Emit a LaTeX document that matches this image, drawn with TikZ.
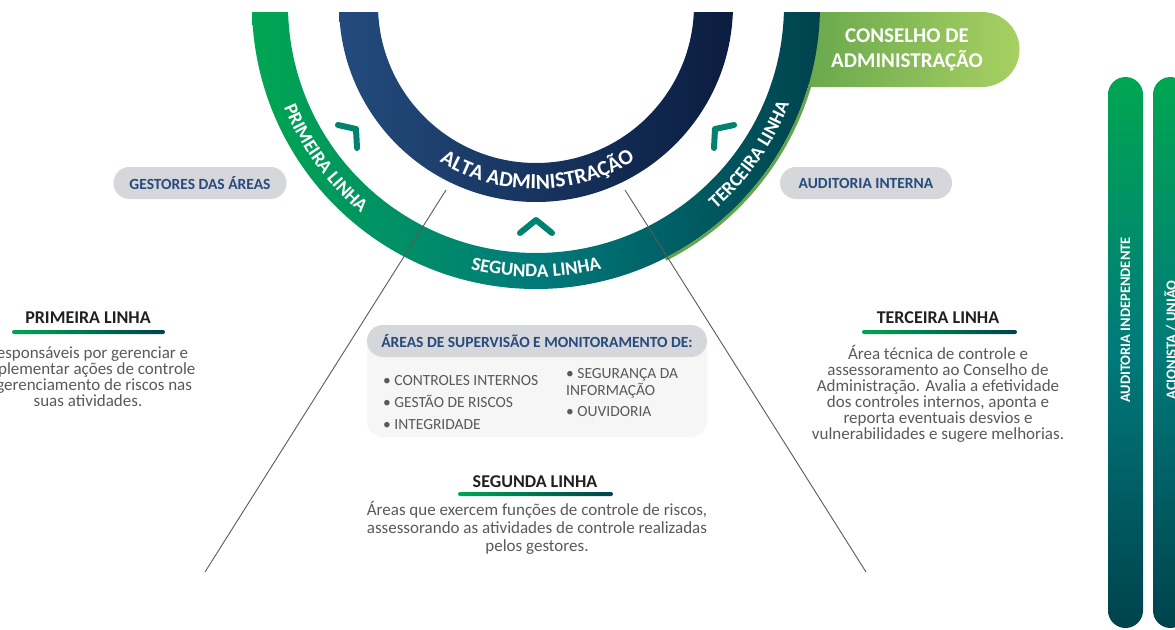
\documentclass[tikz,border=0pt]{standalone}
\usepackage{fontspec}
\setmainfont{Carlito}
\usetikzlibrary{decorations.text, positioning}
\definecolor{linegreen}{RGB}{0,166,81}
\definecolor{lineteal}{RGB}{0,122,122}
\definecolor{linedark}{RGB}{0,66,77}
\definecolor{adminlight}{RGB}{35,75,125}
\definecolor{admindark}{RGB}{11,29,64}
\definecolor{boardleft}{RGB}{100,165,75}
\definecolor{boardright}{RGB}{168,208,98}
\definecolor{pillgray}{RGB}{213,215,218}
\definecolor{boxgray}{RGB}{246,246,246}
\definecolor{pilltext}{RGB}{40,74,126}
\definecolor{bodytext}{RGB}{89,89,89}
\definecolor{headtext}{RGB}{35,31,32}
\definecolor{chevron}{RGB}{0,130,112}
\definecolor{guide}{RGB}{90,90,90}

\newcommand\ringfont{\fontsize{19}{19}\selectfont\bfseries}
\newcommand\adminfont{\fontsize{21.5}{21.5}\selectfont\bfseries}
\newcommand\boardfont{\fontsize{21}{25}\selectfont\bfseries}
\newcommand\pillfont{\fontsize{15.5}{16}\selectfont\bfseries}
\newcommand\titlefont{\fontsize{18}{20}\selectfont\bfseries}
\newcommand\bodyfont{\fontsize{17}{16}\selectfont\lineskiplimit=-20pt}
\newcommand\itemfont{\fontsize{15.5}{22}\selectfont}
\newcommand\barfont{\fontsize{14.5}{16}\selectfont\bfseries}

\tikzset{
  ringlabel/.style 2 args={decorate, decoration={text along path, text align=center, text color=white, text={|#1|#2}}},
  pill/.style={fill=pillgray, rounded corners=16pt, minimum height=32pt, inner sep=0pt, text=pilltext, font=\pillfont},
  linetitle/.style={text=headtext, font=\titlefont, inner sep=0pt},
  linebody/.style={text=bodytext, font=\bodyfont, align=center, inner sep=0pt},
  itemlist/.style={text=bodytext, font=\itemfont, align=left, inner sep=0pt, anchor=north west},
  barlabel/.style={text=white, font=\barfont, rotate=90, inner sep=0pt},
  guideline/.style={draw=guide, line width=0.9pt},
  chev/.style={draw=chevron, line width=6pt, line cap=round, line join=round},
  barshade/.style={top color=linegreen, bottom color=linedark, middle color=lineteal, rounded corners=17.5pt}
}

\begin{document}
\begin{tikzpicture}[x=1pt, y=1pt]
  \useasboundingbox (0,0) rectangle (1175,-629);
  \clip (0,0) rectangle (1175,-629);

  % Conselho box (sits under the outer ring)
  \shade[left color=boardleft, right color=boardright] (790,-12) -- (982,-12) arc[start angle=90, end angle=-90, radius=37.5] -- (790,-87) -- cycle;
  \node[text=white, font=\boardfont, align=center] (conselho) at (907,-50) {CONSELHO DE\\ADMINISTRAÇÃO};

  % Rings
  \coordinate (c) at (536,-5);
  \begin{scope}
    \clip (0,-12) rectangle (1175,-629);
    \shade[left color=linegreen, right color=linedark, middle color=lineteal, even odd rule] (c) circle[radius=284] (c) circle[radius=248];
    \shade[left color=adminlight, right color=admindark, even odd rule] (c) circle[radius=197] (c) circle[radius=158];
  \end{scope}
  \draw[boardleft, line width=3pt] (c) ++(-16:285.5) arc[start angle=-16, end angle=-63, radius=285.5];

  % Ring labels
  \path[ringlabel={\ringfont}{PRIMEIRA LINHA}] (c) ++(181:272) arc[start angle=181, end angle=251, radius=272];
  \path[ringlabel={\ringfont}{SEGUNDA LINHA}] (c) ++(235:272) arc[start angle=235, end angle=305, radius=272];
  \path[ringlabel={\ringfont}{TERCEIRA LINHA}] (c) ++(290:272) arc[start angle=290, end angle=360, radius=272];
  \path[ringlabel={\adminfont}{ALTA ADMINISTRAÇÃO}] (c) ++(230:184) arc[start angle=230, end angle=311, radius=184];

  % Chevrons
  \draw[chev] (338,-125) -- (356,-129) -- (357,-148);
  \draw[chev] (520,-233) -- (536,-220) -- (552,-233);
  \draw[chev] (734,-125) -- (715,-129) -- (714,-148);

  % Guide lines
  \coordinate (guideLa) at (446,-190);
  \coordinate (guideLb) at (205,-572);
  \coordinate (guideRa) at (625,-190);
  \coordinate (guideRb) at (866,-572);
  \draw[guideline] (guideLa) -- (guideLb);
  \draw[guideline] (guideRa) -- (guideRb);

  % Pills
  \node[pill, minimum width=173pt] (gestores) at (200,-183) {GESTORES DAS ÁREAS};
  \node[pill, minimum width=172pt] (auditoria) at (866,-183) {AUDITORIA INTERNA};

  % Supervision box
  \fill[boxgray, rounded corners=16pt] (367,-325) rectangle (707,-437);
  \node[pill, minimum width=340pt] (areas) at (537,-341) {ÁREAS DE SUPERVISÃO E MONITORAMENTO DE:};
  \node[itemlist] (leftitems) at (383,-375) {• CONTROLES INTERNOS\\• GESTÃO DE RISCOS\\• INTEGRIDADE};
  \node[itemlist, font=\fontsize{15.5}{17}\selectfont] (rightitems) at (566,-368) {• SEGURANÇA DA\\INFORMAÇÃO\\[4pt]• OUVIDORIA};

  % Line titles
  \node[linetitle] (primeira) at (88,-318) {PRIMEIRA LINHA};
  \shade[left color=linegreen, right color=linedark, rounded corners=2pt] (12,-330) rectangle (165,-334);
  \node[linebody] (primeirabody) at (88,-377) {Responsáveis por gerenciar e\\implementar ações de controle\\e gerenciamento de riscos nas\\suas atividades.};

  \node[linetitle] (segunda) at (535,-482) {SEGUNDA LINHA};
  \shade[left color=linegreen, right color=linedark, rounded corners=2pt] (458,-492) rectangle (613,-496);
  \node[linebody, font=\fontsize{17}{18.2}\selectfont] (segundabody) at (537,-528) {Áreas que exercem funções de controle de riscos,\\assessorando as atividades de controle realizadas\\pelos gestores.};

  \node[linetitle] (terceira) at (938,-318) {TERCEIRA LINHA};
  \shade[left color=linegreen, right color=linedark, rounded corners=2pt] (862,-330) rectangle (1017,-334);
  \node[linebody] (terceirabody) at (938,-394) {Área técnica de controle e\\assessoramento ao Conselho de\\Administração. Avalia a efetividade\\dos controles internos, aponta e\\reporta eventuais desvios e\\vulnerabilidades e sugere melhorias.};

  % Side bars
  \shade[barshade] (1108,-77) rectangle (1143,-628);
  \shade[barshade] (1153,-77) rectangle (1188,-628);
  \node[barlabel] (independente) at (1125.5,-320) {AUDITORIA INDEPENDENTE};
  \node[barlabel] (acionista) at (1170.5,-340) {ACIONISTA / UNIÃO};
\end{tikzpicture}
\end{document}
